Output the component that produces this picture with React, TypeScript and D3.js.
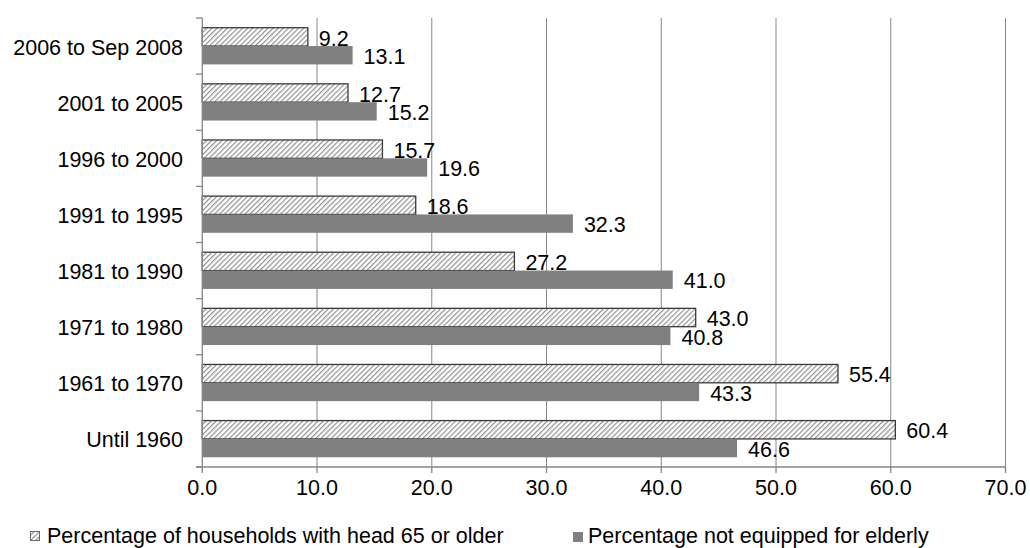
import React from "react";
import * as d3 from "d3";

const categories = [
  "2006 to Sep 2008",
  "2001 to 2005",
  "1996 to 2000",
  "1991 to 1995",
  "1981 to 1990",
  "1971 to 1980",
  "1961 to 1970",
  "Until 1960",
];
const headOlder = [9.2, 12.7, 15.7, 18.6, 27.2, 43.0, 55.4, 60.4];
const notEquipped = [13.1, 15.2, 19.6, 32.3, 41.0, 40.8, 43.3, 46.6];
const xTicks = [0, 10, 20, 30, 40, 50, 60, 70];
const seriesNames = [
  "Percentage of households with head 65 or older",
  "Percentage not equipped for elderly",
];

const W = 1030;
const H = 548;
const FONT = "'Liberation Sans', Arial, sans-serif";
const FS = 21.5;
const AXIS = "#868686";
const GRAY = "#808080";

export default function App() {
  const x = d3.scaleLinear().domain([0, 70]).range([202.3, 1005.5]);
  const y = d3.scaleBand<string>().domain(categories).range([18, 467]).padding(0);
  const step = y.step();
  const barH = step * 0.327;
  const fmt = d3.format(".1f");

  return (
    <svg
      width={W}
      height={H}
      style={{ position: "absolute", left: 0, top: 0, background: "#fff" }}
      fontFamily={FONT}
    >
      <defs>
        <pattern
          id="hatch"
          width={3.6}
          height={3.6}
          patternUnits="userSpaceOnUse"
          patternTransform="rotate(45)"
        >
          <rect width={3.6} height={3.6} fill="#fff" />
          <line x1={0.6} y1={0} x2={0.6} y2={3.6} stroke="#8a8a8a" strokeWidth={1.1} />
        </pattern>
      </defs>

      {/* vertical gridlines */}
      {xTicks.slice(1).map((t) => (
        <line
          key={"g" + t}
          x1={x(t)}
          x2={x(t)}
          y1={18}
          y2={467}
          stroke={AXIS}
          strokeWidth={1}
        />
      ))}

      {/* bars */}
      {categories.map((c, i) => {
        const yc = (y(c) as number) + step / 2;
        return (
          <g key={c}>
            <rect
              x={x(0)}
              y={yc - barH}
              width={x(headOlder[i]) - x(0)}
              height={barH}
              fill="url(#hatch)"
              stroke="#3a3a3a"
              strokeWidth={1.3}
            />
            <rect
              x={x(0)}
              y={yc}
              width={x(notEquipped[i]) - x(0)}
              height={barH}
              fill={GRAY}
            />
          </g>
        );
      })}

      {/* axes */}
      <line x1={x(0)} x2={x(0)} y1={18} y2={467} stroke={AXIS} strokeWidth={1.3} />
      <line x1={196} x2={x(70)} y1={467} y2={467} stroke={AXIS} strokeWidth={1.3} />
      {d3.range(categories.length + 1).map((k) => {
        const yy = 18 + k * step;
        return (
          <line key={"yt" + k} x1={196} x2={x(0)} y1={yy} y2={yy} stroke={AXIS} strokeWidth={1.3} />
        );
      })}
      {xTicks.map((t) => (
        <g key={"xt" + t}>
          <line x1={x(t)} x2={x(t)} y1={467} y2={473} stroke={AXIS} strokeWidth={1.3} />
          <text x={x(t)} y={495} textAnchor="middle" fontSize={FS} fill="#000">
            {fmt(t)}
          </text>
        </g>
      ))}

      {/* category labels */}
      {categories.map((c) => (
        <text
          key={"cl" + c}
          x={183}
          y={(y(c) as number) + step / 2 + 8.5}
          textAnchor="end"
          fontSize={FS}
          fill="#000"
        >
          {c}
        </text>
      ))}

      {/* value labels */}
      {categories.map((c, i) => {
        const yc = (y(c) as number) + step / 2;
        return (
          <g key={"vl" + c}>
            <text x={x(headOlder[i]) + 11} y={yc - barH / 2 + 8.7} fontSize={FS} fill="#000">
              {fmt(headOlder[i])}
            </text>
            <text x={x(notEquipped[i]) + 11} y={yc + barH / 2 + 8.7} fontSize={FS} fill="#000">
              {fmt(notEquipped[i])}
            </text>
          </g>
        );
      })}

      {/* legend */}
      <rect x={30.5} y={531.5} width={9} height={9} fill="url(#hatch)" stroke="#6a6a6a" strokeWidth={1} />
      <text x={47} y={543} fontSize={FS} fill="#000">
        {seriesNames[0]}
      </text>
      <rect x={573} y={532} width={10} height={10} fill={GRAY} />
      <text x={588} y={543} fontSize={FS} fill="#000">
        {seriesNames[1]}
      </text>
    </svg>
  );
}
